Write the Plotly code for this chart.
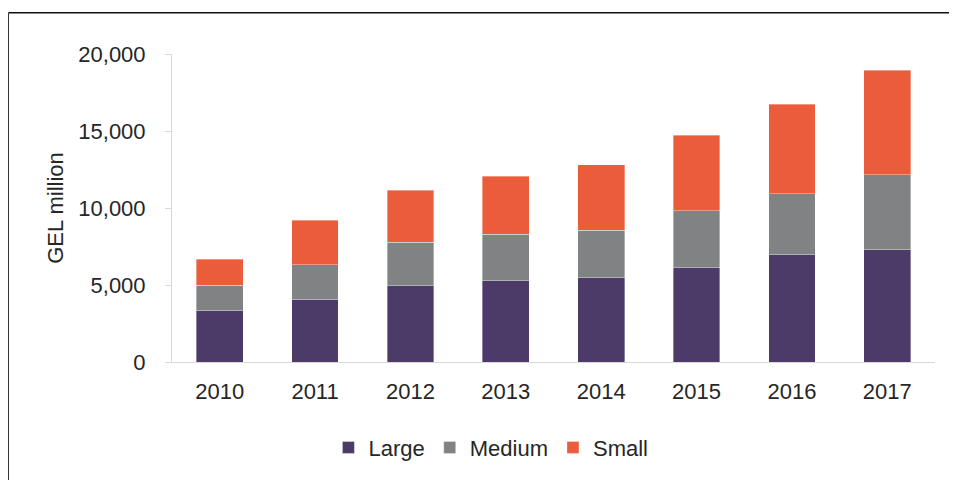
import plotly.graph_objects as go

years = ["2010", "2011", "2012", "2013", "2014", "2015", "2016", "2017"]
large = [3320, 4090, 4950, 5290, 5460, 6130, 6950, 7290]
medium = [1650, 2210, 2840, 3010, 3100, 3700, 3980, 4860]
small = [1700, 2910, 3350, 3750, 4240, 4880, 5820, 6800]

y_ticks = [0, 5000, 10000, 15000, 20000]

FONT = "Liberation Sans, Arial, sans-serif"
TEXT = "#262626"
SIZE = 22

fig = go.Figure()
for name, vals, color in [("Large", large, "#4c3a69"),
                          ("Medium", medium, "#818283"),
                          ("Small", small, "#ea5c3a")]:
    fig.add_trace(go.Bar(
        x=years, y=vals, name=name,
        marker=dict(color=color, line=dict(color="rgba(255,255,255,0.45)", width=0.8)),
    ))

# frame around the chart (only top and left edges are visible in the image)
fig.add_shape(type="line", xref="paper", yref="paper",
              x0=-0.2143, x1=1.2, y0=1.134, y1=1.134,
              line=dict(color="#111111", width=1.6))
fig.add_shape(type="line", xref="paper", yref="paper",
              x0=-0.2143, x1=-0.2143, y0=1.134, y1=-0.6,
              line=dict(color="#333333", width=1))

# page body adds an 8px margin, so the figure is 16px smaller than the window
fig.update_layout(
    barmode="stack",
    bargap=0.51,
    width=941, height=472,
    margin=dict(l=164, r=14, t=46, b=116),
    plot_bgcolor="white",
    paper_bgcolor="white",
    font=dict(family=FONT, size=SIZE, color=TEXT),
    legend=dict(orientation="h", x=0.418, xanchor="center", y=-0.278, yanchor="middle",
                font=dict(size=SIZE, color=TEXT), itemwidth=30, traceorder="normal"),
    xaxis=dict(type="category", showline=True, linecolor="#d9d9d9", linewidth=1,
               ticks="", showgrid=False, ticklabelstandoff=10,
               tickfont=dict(size=SIZE, color=TEXT)),
    yaxis=dict(range=[0, 20000], tickvals=y_ticks, tickformat=",d",
               showgrid=False, showline=True, linecolor="#d9d9d9", linewidth=1,
               ticks="outside", ticklen=6, tickcolor="#d9d9d9",
               ticklabelstandoff=15,
               title=dict(text="GEL million", font=dict(size=SIZE, color=TEXT), standoff=8),
               tickfont=dict(size=SIZE, color=TEXT), zeroline=False),
)

fig.write_html("out.html")
